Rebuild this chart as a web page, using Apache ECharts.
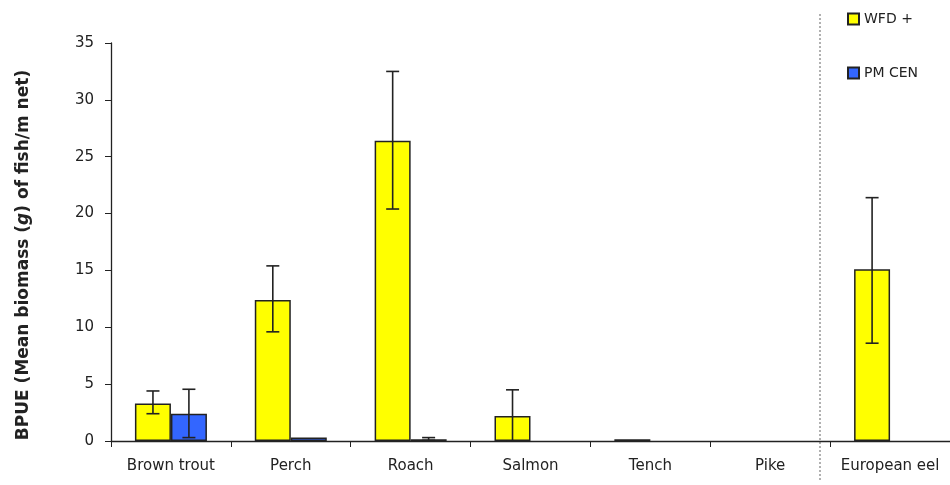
<!DOCTYPE html>
<html>
<head>
<meta charset="utf-8">
<script src="https://cdn.jsdelivr.net/npm/echarts@6/dist/echarts.min.js"></script>
<style>
  html, body { margin: 0; padding: 0; background: #fff; }
  #chart { width: 950px; height: 485px; }
</style>
</head>
<body>
<div id="chart"></div>
<script>
// data
var categories = ['Brown trout', 'Perch', 'Roach', 'Salmon', 'Tench', 'Pike', 'European eel'];
var wfdMean = [3.3, 12.4, 26.4, 2.2, 0.15, null, 15.1];
var wfdLow  = [2.4, 9.6, 20.4, 0, null, null, 8.6];
var wfdHigh = [4.4, 15.4, 32.5, 4.5, null, null, 21.4];
var pmMean = [2.4, 0.3, 0.15, null, null, null, null];
var pmLow  = [0.3, null, 0.05, null, null, null, null];
var pmHigh = [4.55, null, 0.3, null, null, null, null];
var yTicks = [0, 5, 10, 15, 20, 25, 30, 35];

var myChart = echarts.init(document.getElementById('chart'));

function errData(low, high) {
    var out = [];
    for (var i = 0; i < categories.length; i++) {
        if (low[i] != null && high[i] != null) out.push([i, low[i], high[i]]);
    }
    return out;
}

function errRender(side) {
    return function (params, api) {
        var band = api.size([1, 0])[0];
        var lo = api.coord([api.value(0), api.value(1)]);
        var hi = api.coord([api.value(0), api.value(2)]);
        var x = lo[0] + side * band * 0.15;
        var cap = 6.5;
        var st = { stroke: '#222', lineWidth: 1.6 };
        return {
            type: 'group',
            children: [
                { type: 'line', shape: { x1: x, y1: hi[1], x2: x, y2: lo[1] }, style: st },
                { type: 'line', shape: { x1: x - cap, y1: hi[1], x2: x + cap, y2: hi[1] }, style: st },
                { type: 'line', shape: { x1: x - cap, y1: lo[1], x2: x + cap, y2: lo[1] }, style: st }
            ]
        };
    };
}

var font = 'DejaVu Sans, sans-serif';

var option = {
    animation: false,
    textStyle: { fontFamily: font },
    grid: { left: 111, right: 0, top: 43, bottom: 44 },
    legend: {
        orient: 'vertical',
        left: 842,
        top: 7,
        itemWidth: 11,
        itemHeight: 11,
        itemGap: 40,
        icon: 'rect',
        data: ['WFD +', 'PM CEN'],
        textStyle: { fontSize: 14, color: '#222', fontFamily: font }
    },
    xAxis: {
        type: 'category',
        data: categories,
        axisLine: { lineStyle: { color: '#222', width: 1.3 } },
        axisTick: { show: true, interval: 0, length: 6, lineStyle: { color: '#222' } },
        axisLabel: { interval: 0, fontSize: 15, color: '#222', margin: 18 }
    },
    yAxis: {
        type: 'value',
        min: 0,
        max: 35,
        interval: 5,
        name: '{b|BPUE (Mean biomass (}{i|g}{b|) of fish/m net)}',
        nameLocation: 'middle',
        nameGap: 79,
        nameTextStyle: {
            padding: [0, 0, 0, -26],
            rich: {
                b: { fontSize: 17, fontWeight: 'bold', color: '#222', fontFamily: font },
                i: { fontSize: 17, fontWeight: 'bold', fontStyle: 'italic', color: '#222', fontFamily: font }
            }
        },
        axisLine: { show: true, lineStyle: { color: '#222', width: 1.3 } },
        axisTick: { show: true, length: 6, lineStyle: { color: '#222' } },
        splitLine: { show: false },
        axisLabel: {
            fontSize: 15,
            color: '#222',
            margin: 17,
            formatter: function (v) { return yTicks.indexOf(v) >= 0 ? String(v) : ''; }
        }
    },
    series: [
        {
            name: 'WFD +',
            type: 'bar',
            data: wfdMean,
            barWidth: 36,
            barGap: '0%',
            itemStyle: { color: '#ffff00', borderColor: '#222', borderWidth: 1.5 }
        },
        {
            name: 'PM CEN',
            type: 'bar',
            data: pmMean,
            barWidth: 36,
            barGap: '0%',
            itemStyle: { color: '#3366ff', borderColor: '#222', borderWidth: 1.5 }
        },
        {
            type: 'custom',
            renderItem: errRender(-1),
            data: errData(wfdLow, wfdHigh),
            encode: { x: 0, y: [1, 2] },
            z: 5
        },
        {
            type: 'custom',
            renderItem: errRender(1),
            data: errData(pmLow, pmHigh),
            encode: { x: 0, y: [1, 2] },
            z: 5
        }
    ],
    graphic: [{
        type: 'line',
        shape: { x1: 820, y1: 14, x2: 820, y2: 482 },
        style: { stroke: '#888', lineWidth: 1.3, lineDash: [2, 2] }
    }]
};

myChart.setOption(option);
</script>
</body>
</html>
